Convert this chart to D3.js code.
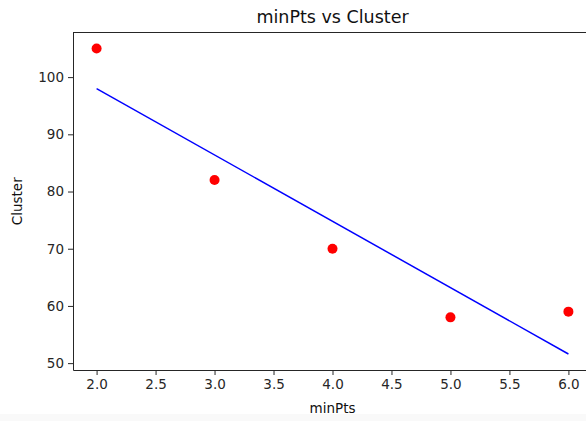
<!DOCTYPE html>
<html>
<head>
  <meta charset="utf-8">
  <title>minPts vs Cluster</title>
  <script src="https://cdnjs.cloudflare.com/ajax/libs/d3/7.8.5/d3.min.js"></script>
  <style>
    body { margin: 0; background: #fff; }
    svg { display: block; font-family: "DejaVu Sans", sans-serif; }
    .tick text { fill: #262626; }
    .domain, .tick line { stroke: #262626; }
  </style>
</head>
<body>
<svg width="586" height="421"></svg>
<script>
  // scatter points
  var minPts = [2, 3, 4, 5, 6];
  var clusters = [105, 82, 70, 58, 59];
  // fitted line end points
  var fitX = [2, 6];
  var fitY = [98.0, 51.6];
  var xTicks = [2.0, 2.5, 3.0, 3.5, 4.0, 4.5, 5.0, 5.5, 6.0];
  var yTicks = [50, 60, 70, 80, 90, 100];

  var svg = d3.select("svg");
  var mLeft = 73, mRight = 592, mTop = 32.5, mBottom = 370;

  var x = d3.scaleLinear().domain([1.8, 6.2]).range([mLeft, mRight]);
  var y = d3.scaleLinear().domain([48.8, 107.8]).range([mBottom, mTop]);

  svg.append("rect").attr("x", 0).attr("y", 414).attr("width", 586).attr("height", 7)
    .attr("fill", "#f9f9f9");

  svg.append("g")
    .attr("transform", "translate(0," + mBottom + ")")
    .call(d3.axisBottom(x).tickValues(xTicks).tickFormat(d3.format(".1f")).tickSize(5).tickSizeOuter(0).tickPadding(4));
  svg.append("g")
    .attr("transform", "translate(" + mLeft + ",0)")
    .call(d3.axisLeft(y).tickValues(yTicks).tickSize(5).tickSizeOuter(0).tickPadding(4));
  svg.selectAll(".tick text").attr("font-size", 13.5).attr("font-family", "DejaVu Sans");

  // top and right spines
  svg.append("line").attr("x1", mLeft).attr("x2", mRight).attr("y1", mTop).attr("y2", mTop)
    .attr("stroke", "#262626");
  svg.append("line").attr("x1", mRight).attr("x2", mRight).attr("y1", mTop).attr("y2", mBottom)
    .attr("stroke", "#262626");

  svg.append("line")
    .attr("x1", x(fitX[0])).attr("y1", y(fitY[0]))
    .attr("x2", x(fitX[1])).attr("y2", y(fitY[1]))
    .attr("stroke", "#0000ff").attr("stroke-width", 1.5);

  svg.selectAll("circle.pt")
    .data(minPts)
    .enter()
    .append("circle")
    .attr("class", "pt")
    .attr("cx", d => x(d))
    .attr("cy", (d, i) => y(clusters[i]))
    .attr("r", 5)
    .attr("fill", "#ff0000");

  svg.append("text").attr("x", (mLeft + mRight) / 2).attr("y", 23)
    .attr("text-anchor", "middle").attr("font-size", 17.5).attr("fill", "#111")
    .text("minPts vs Cluster");
  svg.append("text").attr("x", (mLeft + mRight) / 2).attr("y", 413)
    .attr("text-anchor", "middle").attr("font-size", 13.5).attr("fill", "#111")
    .text("minPts");
  svg.append("text").attr("transform", "translate(22," + (mTop + mBottom) / 2 + ") rotate(-90)")
    .attr("text-anchor", "middle").attr("font-size", 13.5).attr("fill", "#111")
    .text("Cluster");
</script>
</body>
</html>
